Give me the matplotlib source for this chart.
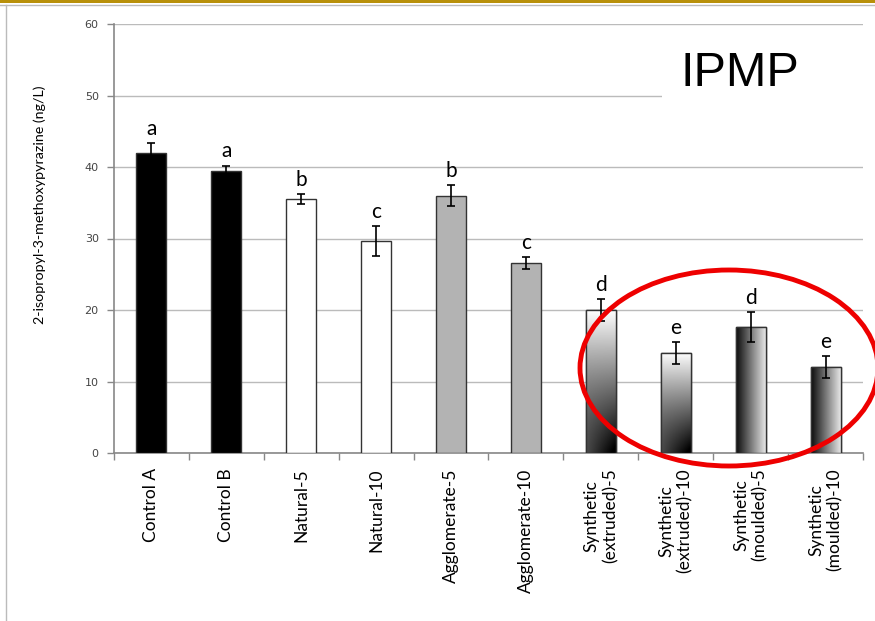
import numpy as np
import matplotlib.pyplot as plt
from matplotlib.patches import Ellipse, Rectangle
from matplotlib.lines import Line2D

# IPMP concentrations per closure type (mean and error)
tratamientos = ["Control A", "Control B", "Natural-5", "Natural-10", "Agglomerate-5",
                "Agglomerate-10", "Synthetic\n(extruded)-5", "Synthetic\n(extruded)-10",
                "Synthetic\n(moulded)-5", "Synthetic\n(moulded)-10"]
medias = [42.0, 39.5, 35.5, 29.6, 36.0, 26.6, 20.0, 14.0, 17.6, 12.0]
errores = [1.4, 0.7, 0.7, 2.1, 1.5, 0.8, 1.5, 1.5, 2.1, 1.5]
letras = ["a", "a", "b", "c", "b", "c", "d", "e", "d", "e"]
rellenos = ["black", "black", "white", "white", "#b3b3b3", "#b3b3b3",
            "extruded", "extruded", "moulded", "moulded"]

fuente = ["Lato", "DejaVu Sans"]

fig = plt.figure(figsize=(8.75, 6.21), dpi=100)
ax = fig.add_axes([114 / 875, 1 - 453 / 621, (863 - 114) / 875, (453 - 24) / 621])

x = np.arange(len(tratamientos))
ancho = 0.4
barras = ax.bar(x, medias, width=ancho, color="white", edgecolor="#333333",
                linewidth=1.0, zorder=3)
for b, r in zip(barras, rellenos):
    if r not in ("extruded", "moulded"):
        b.set_facecolor(r)

ax.errorbar(x, medias, yerr=errores, fmt="none", ecolor="black", elinewidth=1.2,
            capsize=3, capthick=1.2, zorder=5)

# gradient fills for the synthetic closures
gy, gx = np.mgrid[0:1:200j, 0:1:50j]
for b, r in zip(barras, rellenos):
    if r == "extruded":
        img = np.clip(gy * 1.05 + (0.35 - 0.35 * gx) * (1 - gy) ** 3 - 0.05, 0, 1)
    elif r == "moulded":
        img = 0.05 + 0.85 * gx
    else:
        continue
    x0, w, h = b.get_x(), b.get_width(), b.get_height()
    im = ax.imshow(img, cmap="gray", vmin=0, vmax=1, origin="lower",
                   extent=(x0, x0 + w, 0, h), aspect="auto", zorder=3.5)
    im.set_clip_path(b)
    ax.add_patch(Rectangle((x0, 0), w, h, fill=False, edgecolor="#333333",
                           linewidth=1.0, zorder=4))

for xi, m, e, l in zip(x, medias, errores, letras):
    ax.annotate(l, (xi, m + e), xytext=(0, 3), textcoords="offset points",
                ha="center", va="bottom", fontsize=15, family=fuente, zorder=6)

ax.set_xlim(-0.5, len(tratamientos) - 0.5)
ax.set_ylim(0, 60)
ax.set_yticks(range(0, 61, 10))
ax.yaxis.grid(True, color="#bbbbbb", linewidth=1.0, zorder=0)
ax.set_axisbelow(True)
ax.set_xticks(x)
ax.set_xticklabels(tratamientos, rotation=90, fontsize=12.5, family=fuente,
                   ha="center", va="top", multialignment="center")
ax.set_xticks(np.arange(-0.5, len(tratamientos)), minor=True)
ax.tick_params(axis="x", which="major", length=0, pad=11)
ax.tick_params(axis="x", which="minor", length=5, color="#888888", width=1)
ax.tick_params(axis="y", length=5, color="#888888", width=1, labelsize=8,
               labelcolor="#444444", pad=6)
for s in ("top", "right"):
    ax.spines[s].set_visible(False)
for s in ("left", "bottom"):
    ax.spines[s].set_color("#888888")
    ax.spines[s].set_linewidth(1.2)

fig.text(40 / 875, 1 - 205 / 621, "2-isopropyl-3-methoxypyrazine (ng/L)", rotation=90,
         ha="center", va="center", fontsize=10.3, family=fuente)

# title over the upper grid, with a white patch hiding the 50 line
fig.add_artist(Rectangle((662 / 875, 1 - 110 / 621), 210 / 875, 30 / 621,
                         transform=fig.transFigure, facecolor="white",
                         edgecolor="none", zorder=9))
fig.text(740 / 875, 1 - 73 / 621, "IPMP", ha="center", va="center", fontsize=35,
         family="Liberation Sans", zorder=10)

# red highlight around the synthetic closures
fig.add_artist(Ellipse((729 / 875, 1 - 368 / 621), 298 / 875, 196 / 621,
                       transform=fig.transFigure, fill=False, edgecolor="#ee0000",
                       linewidth=3.5, zorder=11))

# slide frame
fig.add_artist(Rectangle((0, 1 - 3 / 621), 1, 3 / 621, transform=fig.transFigure,
                         facecolor="#b8900a", edgecolor="none"))
fig.add_artist(Line2D([0, 1], [1 - 5 / 621] * 2, transform=fig.transFigure,
                      color="#bbbbbb", linewidth=1))
fig.add_artist(Line2D([6 / 875] * 2, [0, 1 - 5 / 621], transform=fig.transFigure,
                      color="#bbbbbb", linewidth=1))

fig.savefig("out.png", dpi=100)
